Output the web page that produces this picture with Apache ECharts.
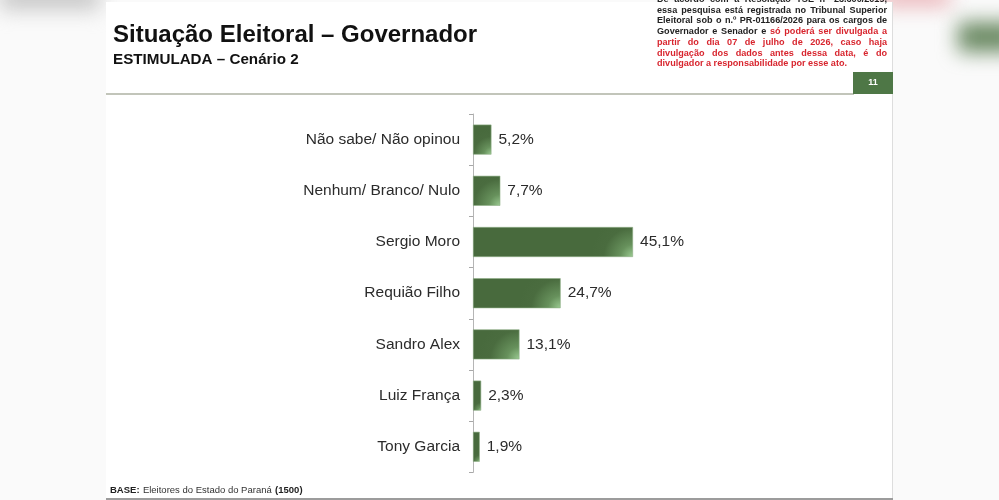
<!DOCTYPE html>
<html>
<head>
<meta charset="utf-8">
<script src="https://cdn.jsdelivr.net/npm/echarts@6/dist/echarts.min.js"></script>
<style>
  html, body { margin: 0; padding: 0; background: #fafafa; overflow: hidden; }
  #wrap { position: relative; width: 999px; height: 500px; }
  .blur { position: absolute; filter: blur(10px); }
  #slide { position: absolute; left: 106px; top: 2px; width: 786px; height: 498px; background: #fff; border-right: 1px solid #ddd; }
  #chart { position: absolute; left: 0; top: 0; width: 999px; height: 500px; }
  #aviso { position: absolute; left: 657px; top: -6px; width: 230px; font-family: "Liberation Sans", Arial, sans-serif; font-weight: bold; font-size: 9.1px; line-height: 10.7px; color: #222; }
  #aviso div { text-align: justify; text-align-last: justify; white-space: nowrap; }
  #aviso div.last { text-align-last: left; }
  #aviso .red { color: #d8252e; }
</style>
</head>
<body>
<div id="wrap">
  <div class="blur" style="left:0px;top:-16px;width:100px;height:26px;background:#c8c8c8;"></div>
  <div class="blur" style="left:880px;top:-12px;width:70px;height:18px;background:#eab0b5;"></div>
  <div class="blur" style="left:958px;top:22px;width:60px;height:30px;background:#6a8962;"></div>
  <div id="slide"></div>
  <div id="chart"></div>
  <div id="aviso">
    <div>De acordo com a Resolução TSE nº 23.600/2019,</div>
    <div>essa pesquisa está registrada no Tribunal Superior</div>
    <div>Eleitoral sob o n.º PR-01166/2026 para os cargos de</div>
    <div>Governador e Senador e <span class="red">só poderá ser divulgada a</span></div>
    <div class="red">partir do dia 07 de julho de 2026, caso haja</div>
    <div class="red">divulgação dos dados antes dessa data, é do</div>
    <div class="red last">divulgador a responsabilidade por esse ato.</div>
  </div>
</div>
<script>
// dados
var categorias = ["Não sabe/ Não opinou", "Nenhum/ Branco/ Nulo", "Sergio Moro", "Requião Filho", "Sandro Alex", "Luiz França", "Tony Garcia"];
var valores = [5.2, 7.7, 45.1, 24.7, 13.1, 2.3, 1.9];

var myChart = echarts.init(document.getElementById("chart"));

var fonte = '"Liberation Sans", Arial, sans-serif';

var option = {
  backgroundColor: "transparent",
  animation: false,
  grid: {
    left: 473,
    top: 114,
    width: 177.4,
    height: 358.4
  },
  xAxis: {
    type: "value",
    min: 0,
    max: 50,
    show: false
  },
  yAxis: {
    type: "category",
    inverse: true,
    data: categorias,
    axisLine: { show: true, lineStyle: { color: "#b5b5b5", width: 1 } },
    axisTick: { show: true, length: 4, lineStyle: { color: "#a8a8a8", width: 1 } },
    axisLabel: {
      margin: 13,
      fontFamily: fonte,
      fontSize: 15.5,
      color: "#2b2b2b"
    }
  },
  series: [{
    type: "bar",
    data: valores,
    barWidth: 30,
    itemStyle: {
      // mancha clara no canto inferior direito
      color: new echarts.graphic.RadialGradient(1, 1, 1.4, [
        { offset: 0, color: "#9ccc93" },
        { offset: 0.3, color: "#67915c" },
        { offset: 0.7, color: "#4a6c3f" },
        { offset: 1, color: "#486a3d" }
      ]),
      borderColor: "#8fae86",
      borderWidth: 0.6
    },
    label: {
      show: true,
      position: "right",
      distance: 7,
      fontFamily: fonte,
      fontSize: 15.5,
      color: "#2b2b2b",
      formatter: function (p) {
        return p.value.toFixed(1).replace(".", ",") + "%";
      }
    }
  }],
  graphic: [
    // titulo
    {
      type: "text", left: 113, top: 23,
      style: { text: "Situação Eleitoral – Governador", font: "bold 24px " + fonte, fill: "#111" }
    },
    {
      type: "text", left: 113, top: 52,
      style: { text: "ESTIMULADA – Cenário 2", font: "bold 15.2px " + fonte, fill: "#111" }
    },
    // linha do topo
    {
      type: "rect", shape: { x: 106, y: 93, width: 748, height: 2 },
      style: { fill: "#c2c5ba" }
    },
    // numero da pagina
    {
      type: "rect", shape: { x: 853, y: 72, width: 40, height: 22 },
      style: { fill: "#4e7746" }
    },
    {
      type: "text", x: 873, y: 83,
      style: { text: "11", font: "bold 9px " + fonte, fill: "#fff", align: "center", verticalAlign: "middle" }
    },
    // base
    {
      type: "text", left: 110, top: 484,
      style: {
        text: "{b|BASE:} {n|Eleitores do Estado do Paraná} {b|(1500)}",
        rich: {
          b: { font: "bold 9.5px " + fonte, fill: "#222" },
          n: { font: "9.5px " + fonte, fill: "#333" }
        }
      }
    },
    {
      type: "rect", shape: { x: 106, y: 498, width: 787, height: 2 },
      style: { fill: "#9c9c9c" }
    }
  ]
};

myChart.setOption(option);
</script>
</body>
</html>
